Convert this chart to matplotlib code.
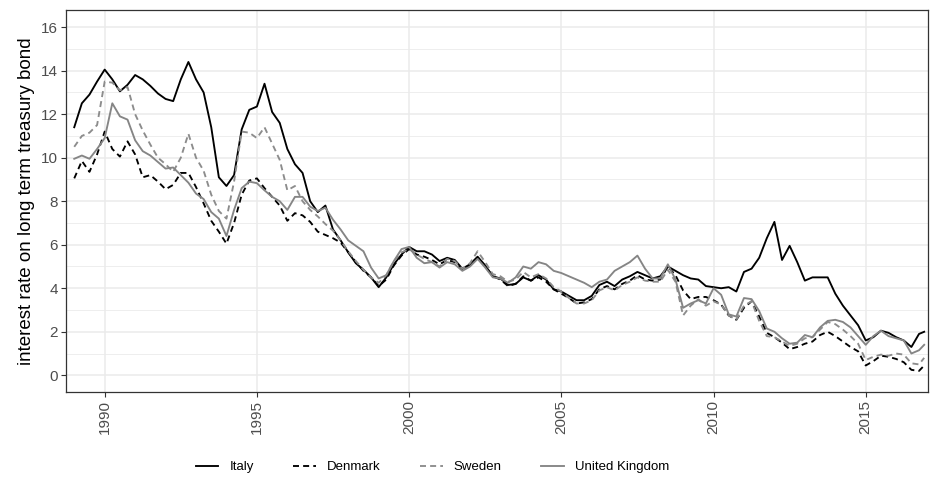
import matplotlib
matplotlib.use("Agg")
import matplotlib.pyplot as plt
import numpy as np

plt.rcParams['font.family'] = ['Liberation Sans', 'DejaVu Sans']

# quarterly readings (Jan, Apr, Jul, Oct) from 1989 to 2016, plus Dec 2016
years = list(np.arange(1989, 2017, 0.25)) + [2016.92]

italy = [
    11.4, 12.5, 12.9, 13.5,
    14.05, 13.6, 13.05, 13.35,
    13.8, 13.6, 13.3, 12.95,
    12.7, 12.6, 13.6, 14.4,
    13.6, 13.0, 11.4, 9.1,
    8.7, 9.2, 11.3, 12.2,
    12.35, 13.4, 12.1, 11.6,
    10.4, 9.7, 9.3, 8.0,
    7.5, 7.8, 6.7, 6.2,
    5.65, 5.15, 4.85, 4.5,
    4.05, 4.5, 5.1, 5.55,
    5.9, 5.7, 5.7, 5.55,
    5.25, 5.4, 5.3, 4.9,
    5.1, 5.45, 5.05, 4.55,
    4.45, 4.15, 4.2, 4.5,
    4.35, 4.6, 4.4, 3.95,
    3.85, 3.65, 3.45, 3.45,
    3.65, 4.15, 4.3, 4.1,
    4.4, 4.55, 4.75, 4.6,
    4.45, 4.55, 5.0, 4.8,
    4.6, 4.45, 4.4, 4.1,
    4.05, 4.0, 4.05, 3.85,
    4.75, 4.9, 5.4, 6.3,
    7.05, 5.3, 5.95, 5.2,
    4.35, 4.5, 4.5, 4.5,
    3.75, 3.2, 2.75, 2.3,
    1.6, 1.75, 2.05, 1.95,
    1.75, 1.6, 1.3, 1.9, 2.0,
]

denmark = [
    9.05, 9.85, 9.35, 10.15,
    11.2, 10.4, 10.05, 10.75,
    10.15, 9.1, 9.2, 8.9,
    8.55, 8.75, 9.3, 9.3,
    8.65, 7.9, 7.1, 6.6,
    6.05, 7.0, 8.3, 8.95,
    9.05, 8.6, 8.2, 7.8,
    7.1, 7.45, 7.35, 7.05,
    6.6, 6.45, 6.3, 6.1,
    5.65, 5.2, 4.8, 4.5,
    4.1, 4.4, 5.05, 5.5,
    5.8, 5.55, 5.45, 5.3,
    5.1, 5.3, 5.2, 4.85,
    5.05, 5.4, 5.0, 4.55,
    4.4, 4.1, 4.2, 4.55,
    4.35, 4.5, 4.3, 3.95,
    3.75, 3.55, 3.3, 3.35,
    3.5, 3.95, 4.1, 3.95,
    4.2, 4.35, 4.6, 4.4,
    4.35, 4.4, 5.0, 4.6,
    3.9, 3.5, 3.6, 3.6,
    3.45, 3.25, 2.75, 2.55,
    3.1, 3.4, 2.7, 1.95,
    1.75, 1.5, 1.2, 1.3,
    1.45, 1.55, 1.85, 2.0,
    1.8, 1.55, 1.3, 1.1,
    0.45, 0.65, 0.9, 0.85,
    0.75, 0.6, 0.25, 0.2, 0.45,
]

sweden = [
    10.5, 11.0, 11.15, 11.5,
    13.5, 13.45, 13.1, 13.25,
    12.0, 11.25, 10.6, 10.0,
    9.7, 9.35, 10.0, 11.1,
    10.0, 9.4, 8.3, 7.55,
    7.2, 8.9, 11.2, 11.15,
    10.9, 11.4, 10.65, 9.9,
    8.5, 8.7, 8.0, 7.6,
    7.3, 6.95, 6.65, 6.2,
    5.7, 5.25, 4.85, 4.5,
    4.25, 4.6, 5.25, 5.65,
    5.8, 5.55, 5.35, 5.2,
    5.0, 5.35, 5.25, 4.9,
    5.15, 5.7, 5.2, 4.65,
    4.55, 4.3, 4.4, 4.75,
    4.5, 4.65, 4.45, 4.05,
    3.85, 3.55, 3.3, 3.3,
    3.45, 3.9, 4.05, 3.9,
    4.15, 4.3, 4.5, 4.35,
    4.3, 4.3, 4.85, 4.3,
    2.75, 3.2, 3.5, 3.2,
    3.4, 3.25, 2.75, 2.55,
    3.2, 3.4, 2.5, 1.8,
    1.75, 1.55, 1.35, 1.45,
    1.7, 1.75, 2.1, 2.45,
    2.35, 2.1, 1.8, 1.45,
    0.7, 0.85, 0.95, 0.9,
    1.0, 0.95, 0.55, 0.5, 0.8,
]

uk = [
    9.95, 10.1, 9.95, 10.4,
    10.9, 12.5, 11.9, 11.75,
    10.8, 10.3, 10.1, 9.8,
    9.5, 9.55, 9.2, 8.85,
    8.35, 8.1, 7.5, 7.2,
    6.4, 7.6, 8.6, 8.9,
    8.83, 8.5, 8.2, 8.0,
    7.6, 8.2, 8.2, 7.75,
    7.55, 7.7, 7.15, 6.7,
    6.2, 5.95, 5.7, 4.95,
    4.45, 4.6, 5.25, 5.8,
    5.9, 5.4, 5.15, 5.2,
    4.95, 5.2, 5.1, 4.8,
    5.0, 5.35, 4.95, 4.5,
    4.45, 4.25, 4.5, 5.0,
    4.9, 5.2, 5.1, 4.8,
    4.7, 4.55, 4.4, 4.25,
    4.05, 4.3, 4.4, 4.8,
    5.0, 5.2, 5.5, 4.9,
    4.45, 4.45, 5.1, 4.4,
    3.1, 3.3, 3.45, 3.3,
    4.0, 3.7, 2.8, 2.7,
    3.55, 3.5, 2.95, 2.15,
    2.0, 1.7, 1.45, 1.5,
    1.85, 1.75, 2.2, 2.5,
    2.55, 2.45, 2.2, 1.8,
    1.4, 1.8, 2.05, 1.8,
    1.7, 1.6, 1.0, 1.15, 1.4,
]

countries = ["Italy", "Denmark", "Sweden", "United Kingdom"]
series = [italy, denmark, sweden, uk]
styles = [
    dict(color="black", linestyle="-"),
    dict(color="black", linestyle=(0, (3.2, 2.2))),
    dict(color="#8c8c8c", linestyle=(0, (3.2, 2.2))),
    dict(color="#858585", linestyle="-"),
]

fig = plt.figure(figsize=(9.3, 4.87), dpi=100)
ax = fig.add_axes([0.071, 0.195, 0.927, 0.785])

for name, values, style in zip(countries, series, styles):
    ax.plot(years, values, linewidth=1.35, label=name, **style)

ax.set_xlim(1988.73, 2017.05)
ax.set_ylim(-0.77, 16.8)
ax.set_xticks(range(1990, 2016, 5))
ax.set_yticks(range(0, 17, 2))
ax.set_yticks(range(1, 17, 2), minor=True)

ax.grid(which="major", color="#ebebeb", linewidth=1.1)
ax.grid(which="minor", axis="y", color="#ebebeb", linewidth=0.6)
ax.set_axisbelow(True)

for spine in ax.spines.values():
    spine.set_color("#333333")
    spine.set_linewidth(0.9)

ax.tick_params(axis="both", which="major", length=3.5, width=0.8,
               color="#333333", labelcolor="#4d4d4d", labelsize=11, pad=2.5)
ax.tick_params(axis="y", which="minor", length=0)
plt.setp(ax.get_xticklabels(), rotation=90, va="top", ha="center")

ax.set_ylabel("interest rate on long term treasury bond", fontsize=13.5,
              color="black", labelpad=4)

fig.legend(loc="center", bbox_to_anchor=(0.465, 0.041), ncol=4,
           frameon=False, fontsize=9.5, handlelength=1.7,
           handletextpad=0.85, columnspacing=3.0)

fig.savefig("out.png", dpi=100)
